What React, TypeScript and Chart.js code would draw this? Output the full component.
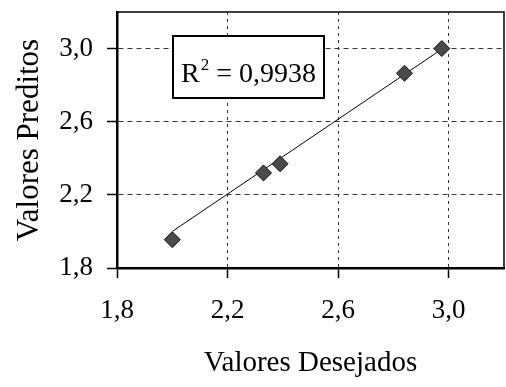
import React, { useEffect, useRef } from "react";
import { Chart, registerables } from "chart.js";

Chart.register(...registerables);

const desejados = [2.0, 2.33, 2.39, 2.84, 2.975];
const preditos = [1.955, 2.32, 2.37, 2.865, 3.0];
const trendX = [2.0, 2.975];
const trendY = [2.0, 2.997];
const tickValues = [1.8, 2.2, 2.6, 3.0];
const r2Label = "0,9938";
const xTitle = "Valores Desejados";
const yTitle = "Valores Preditos";

const FONT = "'Liberation Serif', 'Times New Roman', serif";

const fmt = (v: number) => v.toFixed(1).replace(".", ",");

const frameAndBox = {
  id: "frameAndBox",
  afterDraw(chart: any) {
    const { ctx, chartArea: ca } = chart;
    ctx.save();
    ctx.strokeStyle = "#000";
    ctx.lineWidth = 1.5;
    ctx.beginPath();
    ctx.moveTo(ca.left, ca.top);
    ctx.lineTo(ca.right, ca.top);
    ctx.lineTo(ca.right, ca.bottom);
    ctx.stroke();
    const bx = ca.left + 56;
    const by = ca.top + 24;
    const bw = 151;
    const bh = 62;
    ctx.fillStyle = "#fff";
    ctx.fillRect(bx, by, bw, bh);
    ctx.lineWidth = 2;
    ctx.strokeRect(bx, by, bw, bh);
    ctx.fillStyle = "#000";
    ctx.textBaseline = "alphabetic";
    ctx.textAlign = "left";
    let x = bx + 8;
    const base = by + 46;
    ctx.font = `28px ${FONT}`;
    ctx.fillText("R", x, base);
    x += ctx.measureText("R").width;
    ctx.font = `17px ${FONT}`;
    ctx.fillText("2", x + 1, base - 12);
    x += ctx.measureText("2").width + 1;
    ctx.font = `28px ${FONT}`;
    ctx.fillText(" = " + r2Label, x, base);
    ctx.restore();
  },
};

export default function App() {
  const ref = useRef<HTMLCanvasElement | null>(null);
  useEffect(() => {
    if (!ref.current) return;
    const zeroPad = (s: any) => {
      s.paddingTop = 0;
      s.paddingBottom = 0;
      s.paddingLeft = 0;
      s.paddingRight = 0;
    };
    const chart = new Chart(ref.current, {
      type: "scatter",
      data: {
        datasets: [
          {
            label: "dados",
            data: desejados.map((x, i) => ({ x, y: preditos[i] })),
            pointStyle: "rectRot",
            pointRadius: 8,
            backgroundColor: "#4a4a4a",
            borderColor: "#111",
            borderWidth: 1,
            order: 0,
          },
          {
            label: "tendência",
            type: "line",
            data: trendX.map((x, i) => ({ x, y: trendY[i] })),
            showLine: true,
            pointRadius: 0,
            borderColor: "#000",
            borderWidth: 1,
            fill: false,
            order: 1,
          } as any,
        ],
      },
      options: {
        responsive: false,
        animation: false,
        layout: { autoPadding: false, padding: { top: 12, right: 2, left: 0, bottom: 0 } },
        plugins: {
          legend: { display: false },
          tooltip: { enabled: false },
        },
        scales: {
          x: {
            type: "linear",
            min: 1.8,
            max: 3.2,
            afterBuildTicks: (s: any) => {
              s.ticks = tickValues.map((v) => ({ value: v }));
            },
            afterFit: (s: any) => {
              s.height = 119;
              zeroPad(s);
            },
            grid: {
              color: "#333",
              lineWidth: 1,
              tickLength: 10,
              tickColor: "#000",
              tickWidth: 1.5,
              tickBorderDash: [],
            },
            border: { color: "#000", width: 2.5, dash: [3, 4] },
            ticks: {
              autoSkip: false,
              maxRotation: 0,
              padding: 17,
              color: "#000",
              font: { family: FONT, size: 27 },
              callback: (v: any) => fmt(Number(v)),
            },
            title: {
              display: true,
              text: xTitle,
              color: "#000",
              font: { family: FONT, size: 29 },
              padding: { top: 0, bottom: 6 },
            },
          },
          y: {
            type: "linear",
            min: 1.8,
            max: 3.2,
            afterBuildTicks: (s: any) => {
              s.ticks = tickValues.map((v) => ({ value: v }));
            },
            afterFit: (s: any) => {
              s.width = 117;
              zeroPad(s);
            },
            grid: {
              color: "#333",
              lineWidth: 1,
              tickLength: 10,
              tickColor: "#000",
              tickWidth: 1.5,
              tickBorderDash: [],
            },
            border: { color: "#000", width: 2.5, dash: [5, 4] },
            ticks: {
              autoSkip: false,
              padding: 14,
              color: "#000",
              font: { family: FONT, size: 27 },
              callback: (v: any) => fmt(Number(v)),
            },
            title: {
              display: true,
              text: yTitle,
              color: "#000",
              font: { family: FONT, size: 31 },
              padding: { top: 11, bottom: 0 },
            },
          },
        },
      },
      plugins: [frameAndBox],
    } as any);
    return () => chart.destroy();
  }, []);
  return (
    <canvas
      ref={ref}
      width={506}
      height={387}
      style={{ position: "absolute", left: 0, top: 0, display: "block" }}
    />
  );
}
